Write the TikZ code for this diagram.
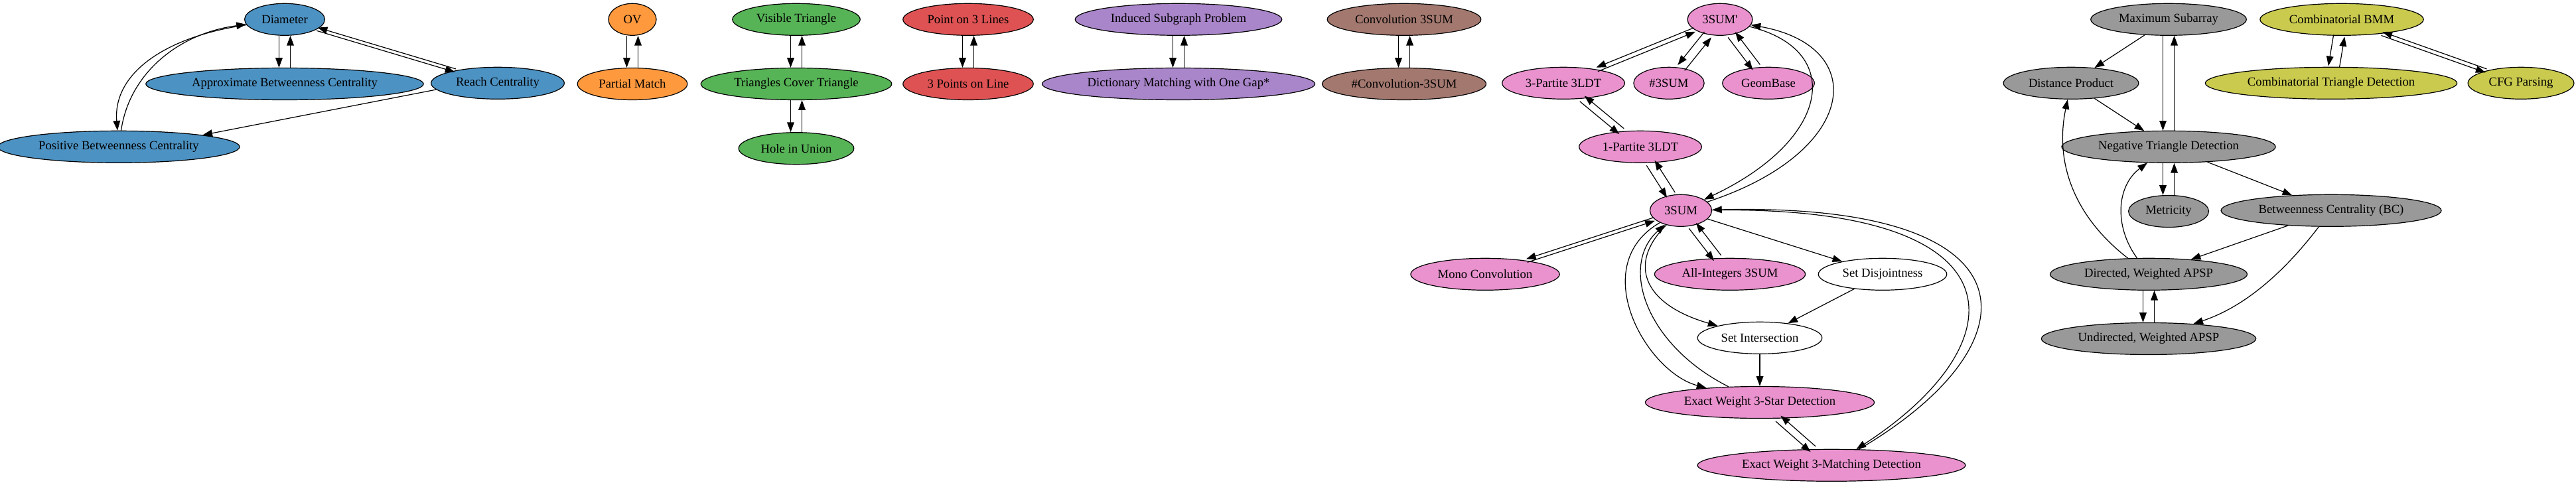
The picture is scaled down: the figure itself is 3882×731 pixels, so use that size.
\documentclass[tikz,border=0pt]{standalone}
\usepackage{fontspec}
\setmainfont{Liberation Serif}
\usepackage{tikz}
\usetikzlibrary{calc,arrows.meta,positioning,shapes.geometric}

\definecolor{tabBlue}{HTML}{1F77B4}
\definecolor{tabOrange}{HTML}{FF7F0E}
\definecolor{tabGreen}{HTML}{2CA02C}
\definecolor{tabRed}{HTML}{D62728}
\definecolor{tabPurple}{HTML}{9467BD}
\definecolor{tabBrown}{HTML}{8C564B}
\definecolor{tabPink}{HTML}{E377C2}
\definecolor{tabGrey}{HTML}{7F7F7F}
\definecolor{tabOlive}{HTML}{BCBD22}

\begin{document}
\begin{tikzpicture}[x=0.75pt,y=0.75pt]

  % Parameters
  \def\rowgap{36pt}
  \def\pairsep{6.4}

  % Styles
  \tikzstyle{prob}=[draw,ellipse,line width=0.9pt,minimum height=36pt,minimum width=54pt,inner xsep=6pt,inner ysep=4pt,font=\fontsize{14pt}{17pt}\selectfont]
  \tikzstyle{blueprob}=[prob,fill=tabBlue!80]
  \tikzstyle{orangeprob}=[prob,fill=tabOrange!80]
  \tikzstyle{greenprob}=[prob,fill=tabGreen!80]
  \tikzstyle{redprob}=[prob,fill=tabRed!80]
  \tikzstyle{purpleprob}=[prob,fill=tabPurple!80]
  \tikzstyle{brownprob}=[prob,fill=tabBrown!80]
  \tikzstyle{pinkprob}=[prob,fill=tabPink!80]
  \tikzstyle{greyprob}=[prob,fill=tabGrey!80]
  \tikzstyle{oliveprob}=[prob,fill=tabOlive!80]
  \tikzstyle{plainprob}=[prob,fill=white]
  \tikzstyle{link}=[->,>={Triangle[length=11pt,width=8pt]},line width=0.9pt]

  % \twoway{<upper>}{<lower>}: both directions, the downward one on the left
  \DeclareDocumentCommand \twoway { m m }{%
    \path let \p1=($(#2)-(#1)$), \n1={veclen(\x1,\y1)} in
      coordinate (pshift) at ({-\pairsep*pow(\y1/\n1,2)*1pt},{\pairsep*(\x1/\n1)*(\y1/\n1)*1pt})
      coordinate (nshift) at ({\pairsep*pow(\y1/\n1,2)*1pt},{-\pairsep*(\x1/\n1)*(\y1/\n1)*1pt});
    \draw[link,transform canvas={shift={(pshift)}}] (#1) -- (#2);
    \draw[link,<-,transform canvas={shift={(nshift)}}] (#1) -- (#2);
  }

  \useasboundingbox (0,0) rectangle (3882,-731);

  % ===========================================================================

  % Diameter group
  \node[blueprob] (dia) at (429,-29.3) {Diameter};
  \node[blueprob,below=\rowgap of dia] (abc) {Approximate Betweenness Centrality};
  \node[blueprob] (reach) at (750,-125.3) {Reach Centrality};
  \node[blueprob] (pbc) at (179,-221.3) {Positive Betweenness Centrality};

  % small groups
  \node[orangeprob] (ov) at (953,-29.3) {OV};
  \node[orangeprob,below=\rowgap of ov] (pm) {Partial Match};
  \node[greenprob] (vt) at (1200,-29.3) {Visible Triangle};
  \node[greenprob,below=\rowgap of vt] (tct) {Triangles Cover Triangle};
  \node[greenprob,below=\rowgap of tct] (hole) {Hole in Union};
  \node[redprob] (p3l) at (1459,-29.3) {Point on 3 Lines};
  \node[redprob,below=\rowgap of p3l] (pol) {3 Points on Line};
  \node[purpleprob] (isp) at (1776,-29.3) {Induced Subgraph Problem};
  \node[purpleprob,below=\rowgap of isp] (dmg) {Dictionary Matching with One Gap*};
  \node[brownprob] (conv) at (2116,-29.3) {Convolution 3SUM};
  \node[brownprob,below=\rowgap of conv] (cconv) {\#Convolution-3SUM};

  % 3SUM group
  \node[pinkprob] (tsp) at (2592,-29.3) {3SUM\textquotesingle};
  \node[pinkprob] (tp) at (2356,-125.3) {3-Partite 3LDT};
  \node[pinkprob] (c3s) at (2515,-125.3) {\#3SUM};
  \node[pinkprob] (geo) at (2665,-125.3) {GeomBase};
  \node[pinkprob] (op) at (2472,-221.3) {1-Partite 3LDT};
  \node[pinkprob] (tsum) at (2533,-317.3) {3SUM};
  \node[pinkprob] (mono) at (2238,-413.3) {Mono Convolution};
  \node[pinkprob] (ai) at (2607,-413.3) {All-Integers 3SUM};
  \node[plainprob] (sd) at (2837,-413.3) {Set Disjointness};
  \node[plainprob] (si) at (2652,-509.3) {Set Intersection};
  \node[pinkprob,below=\rowgap of si] (star) {Exact Weight 3-Star Detection};
  \node[pinkprob] (match) at (2760,-701.3) {Exact Weight 3-Matching Detection};

  % APSP group
  \node[greyprob] (ms) at (3268,-29.3) {Maximum Subarray};
  \node[greyprob] (dp) at (3121,-125.3) {Distance Product};
  \node[greyprob] (ntd) at (3268,-221.3) {Negative Triangle Detection};
  \node[greyprob,below=\rowgap of ntd] (met) {Metricity};
  \node[greyprob] (bc) at (3513,-317.3) {Betweenness Centrality (BC)};
  \node[greyprob] (dapsp) at (3238,-413.3) {Directed, Weighted APSP};
  \node[greyprob,below=\rowgap of dapsp] (uapsp) {Undirected, Weighted APSP};

  % BMM group
  \node[oliveprob] (cbmm) at (3529,-29.3) {Combinatorial BMM};
  \node[oliveprob] (ctd) at (3513,-125.3) {Combinatorial Triangle Detection};
  \node[oliveprob] (cfg) at (3799,-125.3) {CFG Parsing};

  % ===========================================================================

  % Diameter edges
  \twoway{dia}{abc}
  \twoway{dia}{reach}
  \draw[link] (dia) .. controls (250,-55) and (170,-110) .. (pbc);
  \draw[link] (pbc) .. controls (195,-110) and (270,-50) .. (dia);
  \draw[link] (reach.186) -- (pbc.8);

  % small group edges
  \twoway{ov}{pm}
  \twoway{vt}{tct}
  \twoway{tct}{hole}
  \twoway{p3l}{pol}
  \twoway{isp}{dmg}
  \twoway{conv}{cconv}

  % 3SUM edges
  \twoway{tsp}{tp}
  \twoway{tsp}{c3s}
  \twoway{tsp}{geo}
  \twoway{tp}{op}
  \twoway{op}{tsum}
  \draw[link] (tsp) .. controls (2780,-75) and (2760,-210) .. (tsum);
  \draw[link] (tsum) .. controls (2800,-230) and (2820,-70) .. (tsp);
  \twoway{tsum}{mono}
  \twoway{tsum}{ai}
  \draw[link] (tsum) -- (sd);
  \draw[link] (tsum) .. controls (2450,-400) and (2480,-460) .. (si);
  \draw[link] (sd) -- (si);
  \draw[link] (si) -- (star);
  \draw[link] (tsum) .. controls (2390,-400) and (2480,-560) .. (star);
  \draw[link] (star) .. controls (2480,-520) and (2440,-400) .. (tsum);
  \twoway{star}{match}
  \draw[link] (tsum) .. controls (3060,-310) and (3040,-520) .. (match);
  \draw[link] (match) .. controls (3070,-520) and (3080,-305) .. (tsum);

  % APSP edges
  \draw[link] (ms) -- (dp);
  \twoway{ms}{ntd}
  \draw[link] (dp) -- (ntd);
  \twoway{ntd}{met}
  \draw[link] (ntd) -- (bc);
  \draw[link] (bc) -- (dapsp);
  \draw[link] (bc) .. controls (3450,-400) and (3390,-460) .. (uapsp);
  \draw[link] (dapsp) .. controls (3130,-330) and (3095,-250) .. (dp);
  \draw[link] (dapsp) .. controls (3185,-340) and (3190,-280) .. (ntd);
  \twoway{dapsp}{uapsp}

  % BMM edges
  \twoway{cbmm}{ctd}
  \twoway{cbmm}{cfg}

\end{tikzpicture}
\end{document}
